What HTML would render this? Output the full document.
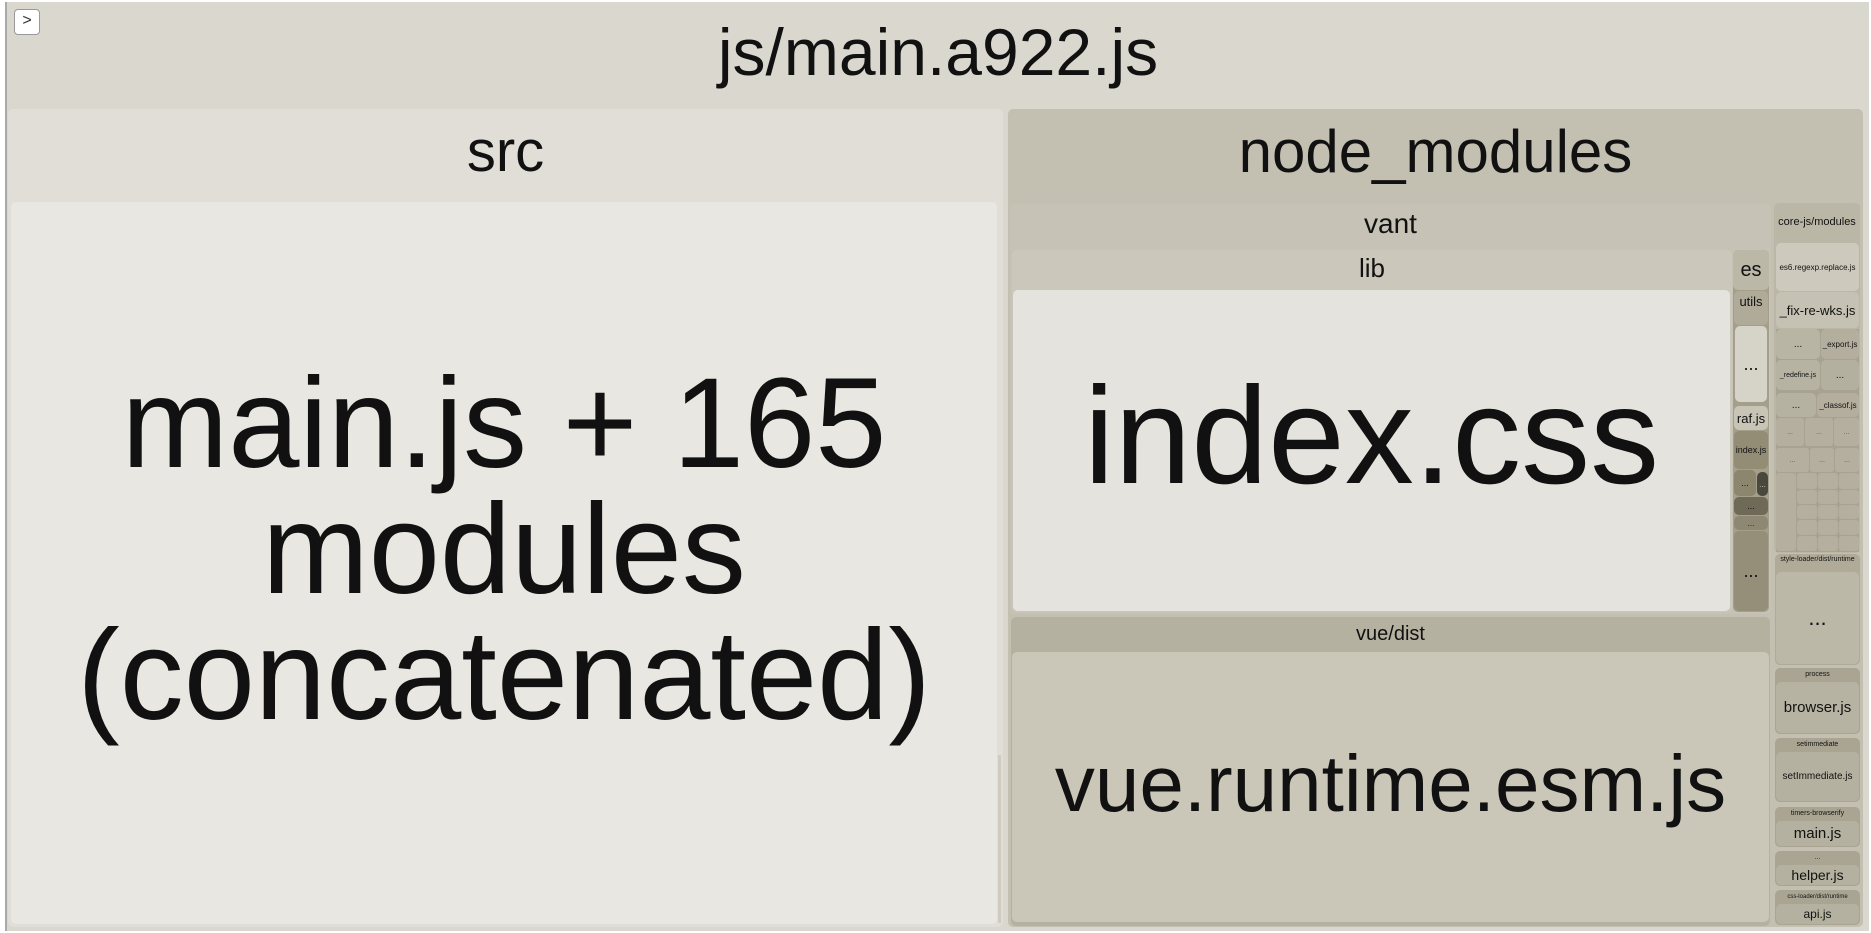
<!DOCTYPE html>
<html><head><meta charset="utf-8"><style>
body{margin:0;width:1871px;height:933px;background:#fff;overflow:hidden;font-family:"Liberation Sans",sans-serif;color:#111}
.b{position:absolute;box-sizing:border-box;border-radius:5px;overflow:hidden;display:flex;justify-content:center;color:#111;white-space:nowrap}
.h{align-items:flex-start}
.c{align-items:center;text-align:center}
.g{position:absolute;box-sizing:border-box;border-radius:3px;background:#b4af9e;font-size:7px;color:#555;display:flex;align-items:center;justify-content:center}
</style></head><body>
<div class="b h" style="left:5px;top:2px;width:1864px;height:929px;background:#dad7ce;border-left:2px solid #aaa;border-radius:0;font-size:66px;line-height:100px">js/main.a922.js</div>
<div style="position:absolute;left:14px;top:9px;width:24px;height:24px;border:1px solid #999;border-radius:4px;background:#fff;font-size:16px;line-height:22px;text-align:center;color:#333">&gt;</div>

<div class="b h" style="left:8px;top:109px;width:995px;height:818px;background:#e0ded7;font-size:58px;line-height:86px">src</div>
<div class="b c" style="left:11px;top:202px;width:986px;height:722px;background:#e8e7e2;font-size:128px;line-height:126px;padding-bottom:26px">main.js + 165<br>modules<br>(concatenated)</div>
<div style="position:absolute;left:998px;top:755px;width:3px;height:168px;background:#cfcbc0"></div>

<div class="b h" style="left:1008px;top:109px;width:855px;height:818px;background:#c3bfb1;font-size:60px;line-height:86px">node_modules</div>
<div class="b h" style="left:1010px;top:204px;width:761px;height:410px;background:#c6c2b5;font-size:28px;line-height:40px">vant</div>
<div class="b h" style="left:1012px;top:250px;width:720px;height:362px;background:#cbc8bb;font-size:26px;line-height:36px">lib</div>
<div class="b c" style="left:1013px;top:290px;width:717px;height:321px;background:#e5e3dd;font-size:138px;padding-bottom:28px">index.css</div>

<div class="b h" style="left:1733px;top:250px;width:36px;height:362px;background:#a49f8a"></div>
<div class="b c" style="left:1733px;top:250px;width:36px;height:40px;background:#bcb8a8;font-size:20px">es</div>
<div class="b h" style="left:1734px;top:291px;width:34px;height:34px;background:#b0ab98;font-size:13px;line-height:22px">utils</div>
<div class="b c" style="left:1735px;top:326px;width:32px;height:76px;background:#d6d3c9;font-size:18px">...</div>
<div class="b c" style="left:1734px;top:406px;width:34px;height:24px;background:#c8c4b6;font-size:13px">raf.js</div>
<div class="b c" style="left:1734px;top:431px;width:34px;height:38px;background:#938d76;font-size:9px">index.js</div>
<div class="b c" style="left:1734px;top:470px;width:22px;height:26px;background:#8c866f;font-size:9px">...</div>
<div class="b c" style="left:1757px;top:472px;width:11px;height:24px;background:#4a473c;color:#ccc;font-size:8px">...</div>
<div class="b c" style="left:1734px;top:497px;width:34px;height:18px;background:#6f6a58;font-size:9px">...</div>
<div class="b c" style="left:1734px;top:516px;width:34px;height:14px;background:#8e8873;font-size:8px">...</div>
<div class="b c" style="left:1734px;top:531px;width:34px;height:80px;background:#958f79;font-size:18px">...</div>

<div class="b h" style="left:1011px;top:617px;width:759px;height:309px;background:#b5b1a1;font-size:20px;line-height:34px">vue/dist</div>
<div class="b c" style="left:1012px;top:652px;width:757px;height:270px;background:#cac6b8;font-size:80px;padding-bottom:6px">vue.runtime.esm.js</div>

<div class="b h" style="left:1774px;top:203px;width:86px;height:350px;background:#bbb7a7;font-size:11px;line-height:38px">core-js/modules</div>
<div class="b c" style="left:1776px;top:243px;width:83px;height:48px;background:#cdc9bd;font-size:8px">es6.regexp.replace.js</div>
<div class="b c" style="left:1776px;top:292px;width:83px;height:36px;background:#c5c1b3;font-size:13px">_fix-re-wks.js</div>
<div style="position:absolute;left:1776px;top:329px;width:83px;height:223px;background:#a8a391"></div>
<div class="b c" style="left:1776px;top:329px;width:44px;height:30px;background:#b9b5a5;font-size:10px">...</div>
<div class="b c" style="left:1821px;top:329px;width:38px;height:30px;background:#b3ae9d;font-size:8px">_export.js</div>
<div class="b c" style="left:1776px;top:360px;width:44px;height:30px;background:#b7b3a3;font-size:7px">_redefine.js</div>
<div class="b c" style="left:1821px;top:360px;width:38px;height:30px;background:#b4b0a0;font-size:10px">...</div>
<div class="b c" style="left:1776px;top:393px;width:40px;height:24px;background:#b6b2a2;font-size:10px">...</div>
<div class="b c" style="left:1817px;top:393px;width:42px;height:24px;background:#b3ae9d;font-size:8px">_classof.js</div>
<div class="g" style="left:1776px;top:418px;width:28px;height:28px">...</div>
<div class="g" style="left:1805px;top:418px;width:28px;height:28px">...</div>
<div class="g" style="left:1834px;top:418px;width:25px;height:28px">...</div>
<div class="g" style="left:1776px;top:448px;width:33px;height:24px">...</div>
<div class="g" style="left:1810px;top:448px;width:24px;height:24px">...</div>
<div class="g" style="left:1835px;top:448px;width:24px;height:24px">...</div>
<div class="g" style="left:1776px;top:473px;width:20px;height:78px"></div>
<div class="g" style="left:1797px;top:473px;width:20px;height:16px"></div>
<div class="g" style="left:1818px;top:473px;width:20px;height:16px"></div>
<div class="g" style="left:1839px;top:473px;width:20px;height:16px"></div>
<div class="g" style="left:1797px;top:490px;width:20px;height:14px"></div>
<div class="g" style="left:1818px;top:490px;width:20px;height:14px"></div>
<div class="g" style="left:1839px;top:490px;width:20px;height:14px"></div>
<div class="g" style="left:1797px;top:505px;width:20px;height:14px"></div>
<div class="g" style="left:1818px;top:505px;width:20px;height:14px"></div>
<div class="g" style="left:1839px;top:505px;width:20px;height:14px"></div>
<div class="g" style="left:1797px;top:520px;width:20px;height:15px"></div>
<div class="g" style="left:1818px;top:520px;width:20px;height:15px"></div>
<div class="g" style="left:1839px;top:520px;width:20px;height:15px"></div>
<div class="g" style="left:1797px;top:536px;width:20px;height:15px"></div>
<div class="g" style="left:1818px;top:536px;width:20px;height:15px"></div>
<div class="g" style="left:1839px;top:536px;width:20px;height:15px"></div>

<div class="b h" style="left:1775px;top:554px;width:85px;height:111px;background:#b0ab99;font-size:7px;line-height:12px">style-loader/dist/runtime</div>
<div class="b c" style="left:1776px;top:572px;width:83px;height:92px;background:#bcb8a8;font-size:22px">...</div>
<div class="b h" style="left:1775px;top:668px;width:85px;height:66px;background:#aaa593;font-size:7px;line-height:14px">process</div>
<div class="b c" style="left:1776px;top:682px;width:83px;height:51px;background:#b7b3a2;font-size:15px">browser.js</div>
<div class="b h" style="left:1775px;top:738px;width:85px;height:64px;background:#aaa593;font-size:7px;line-height:14px">setimmediate</div>
<div class="b c" style="left:1776px;top:752px;width:83px;height:49px;background:#b5b1a0;font-size:10px">setImmediate.js</div>
<div class="b h" style="left:1775px;top:807px;width:85px;height:40px;background:#aaa593;font-size:7px;line-height:14px">timers-browserify</div>
<div class="b c" style="left:1776px;top:821px;width:83px;height:25px;background:#b5b1a0;font-size:15px">main.js</div>
<div class="b h" style="left:1775px;top:851px;width:85px;height:35px;background:#aaa593;font-size:7px;line-height:14px">...</div>
<div class="b c" style="left:1776px;top:865px;width:83px;height:20px;background:#b5b1a0;font-size:14px">helper.js</div>
<div class="b h" style="left:1775px;top:890px;width:85px;height:35px;background:#aaa593;font-size:6px;line-height:14px">css-loader/dist/runtime</div>
<div class="b c" style="left:1776px;top:904px;width:83px;height:20px;background:#b5b1a0;font-size:12px">api.js</div>
</body></html>
